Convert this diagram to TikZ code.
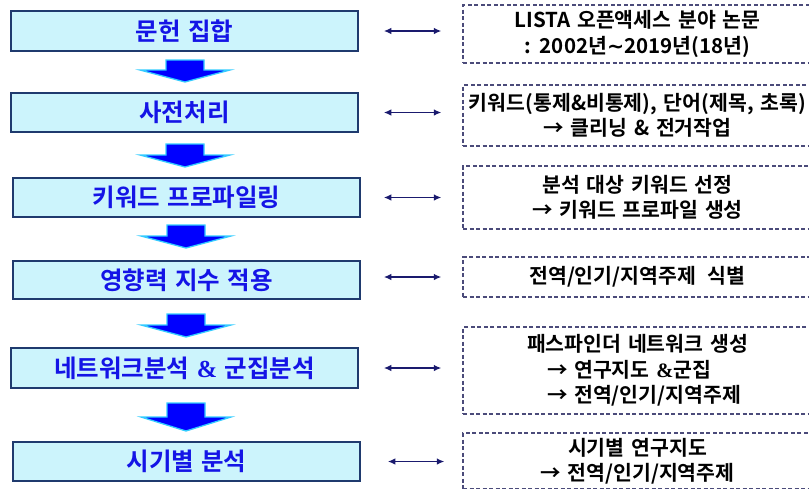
\documentclass[tikz,border=0pt]{standalone}
\usepackage{fontspec}
\setmainfont{Noto Sans CJK KR}[BoldFont={Noto Sans CJK KR Bold}]
\newfontfamily\ampfont{Liberation Serif}[BoldFont={Liberation Serif Bold}]
\newfontfamily\symfont{DejaVu Sans}[BoldFont={DejaVu Sans Bold}]
\usetikzlibrary{arrows.meta,calc}
\definecolor{lbfill}{HTML}{CCF4FC}
\definecolor{lbdraw}{HTML}{1F3A6E}
\definecolor{lbtext}{HTML}{1414E6}
\definecolor{dashc}{HTML}{4B4B7A}
\definecolor{darr}{HTML}{1A1A6E}
\definecolor{arrblue}{HTML}{0000FF}
\definecolor{arrcyan}{HTML}{33CCFF}
\newcommand\lfont{\fontsize{24.5}{28}\selectfont\bfseries\spaceskip=0.3em\relax}
\newcommand\rfont{\fontsize{20.5}{25.5}\selectfont\bfseries\spaceskip=0.33em\relax}
\tikzset{
 lbox/.style={draw=lbdraw, line width=1.5pt, fill=lbfill, minimum width=347pt, inner sep=0pt, text=lbtext, font=\lfont},
 rbox/.style={draw=dashc, line width=1.2pt, dash pattern=on 4pt off 2.5pt, minimum width=349pt, inner sep=0pt, align=center, font=\rfont},
 dbl/.style={draw=darr, line width=1.7pt, {Latex[length=7.5pt,width=6.5pt]}-{Latex[length=7.5pt,width=6.5pt]}},
 barrow/.style={fill=arrblue, draw=arrcyan, line width=1.3pt, line join=miter}
}
\newcommand\blockarrow[4]{%
 \draw[barrow] (#1-19,#2) -- (#1+19,#2) -- (#1+19,#2+#3) -- (#1+45,#2+#3) -- (#1,#2+#3+#4) -- (#1-45,#2+#3) -- (#1-19,#2+#3) -- cycle;}
\begin{document}
\begin{tikzpicture}[x=1pt,y=-1pt]
\useasboundingbox (0,0) rectangle (809,488);
\clip (0,0) rectangle (809,488);
% left boxes
\node[lbox, minimum height=40pt] (l1) at (184.5,31) {문헌 집합};
\node[lbox, minimum height=39pt] (l2) at (184.5,112.5) {사전처리};
\node[lbox, minimum height=39pt] (l3) at (186.5,197.5) {키워드 프로파일링};
\node[lbox, minimum height=38pt] (l4) at (186.5,280) {영향력 지수 적용};
\node[lbox, minimum height=40pt] (l5) at (184.5,368) {네트워크분석 {\ampfont\bfseries\&} 군집분석};
\node[lbox, minimum height=39pt] (l6) at (186.5,461.5) {시기별 분석};
% right boxes
\node[rbox, minimum height=58pt] (r1) at (637.5,34) {LISTA 오픈액세스 분야 논문\\: 2002년{\symfont\bfseries ∼}2019년(18년)};
\node[rbox, minimum height=61pt] (r2) at (637.5,115.5) {키워드(통제\&비통제), 단어(제목, 초록)\\→ 클리닝 \& 전거작업};
\node[rbox, minimum height=63pt] (r3) at (637.5,197.5) {분석 대상 키워드 선정\\→ 키워드 프로파일 생성};
\node[rbox, minimum height=40pt] (r4) at (637.5,277) {전역/인기/지역주제\hspace{0.25em} 식별};
\node[rbox, minimum height=87pt, align=left] (r5) at (637.5,370.5) {패스파인더 네트워크 생성\\\hspace*{20pt}→ 연구지도 {\ampfont\bfseries\&}군집\\\hspace*{20pt}→ 전역/인기/지역주제};
\node[rbox, minimum height=56pt] (r6) at (637.5,461) {시기별 연구지도\\→ 전역/인기/지역주제};
% double arrows
\draw[dbl] ($(l1.east)+(25,0)$) -- ($(r1.west |- l1.east)+(-21,0)$);
\draw[dbl] ($(l2.east)+(25,0)$) -- ($(r2.west |- l2.east)+(-21,0)$);
\draw[dbl] ($(l3.east)+(23,0)$) -- ($(r3.west |- l3.east)+(-21,0)$);
\draw[dbl] ($(l4.east |- r4.west)+(23,0)$) -- ($(r4.west)+(-21,0)$);
\draw[dbl] ($(l5.east)+(25,0)$) -- ($(r5.west |- l5.east)+(-21,0)$);
\draw[dbl] ($(l6.east)+(27,0)$) -- ($(r6.west |- l6.east)+(-18,0)$);
% block arrows
\blockarrow{185}{60}{10}{12}
\blockarrow{185}{144}{11}{12}
\blockarrow{186}{225}{11}{12}
\blockarrow{186}{314}{11}{12}
\blockarrow{186}{403}{14}{14}
\end{tikzpicture}
\end{document}
